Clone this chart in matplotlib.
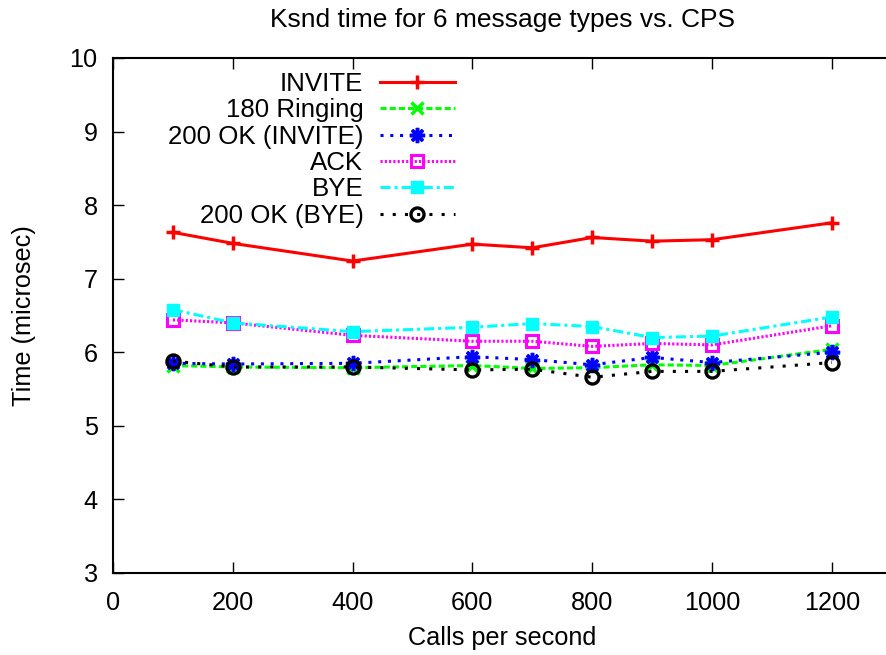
import matplotlib
matplotlib.use("Agg")
import matplotlib.pyplot as plt

# valeurs
cps = [100, 200, 400, 600, 700, 800, 900, 1000, 1200]
invite = [7.63, 7.48, 7.24, 7.47, 7.42, 7.56, 7.51, 7.53, 7.76]
ringing = [5.82, 5.80, 5.79, 5.82, 5.78, 5.79, 5.83, 5.82, 6.04]
ok_invite = [5.85, 5.84, 5.85, 5.94, 5.90, 5.83, 5.93, 5.86, 6.00]
ack = [6.44, 6.40, 6.23, 6.15, 6.15, 6.08, 6.12, 6.10, 6.36]
bye = [6.58, 6.40, 6.28, 6.34, 6.39, 6.35, 6.20, 6.22, 6.48]
ok_bye = [5.88, 5.80, 5.80, 5.76, 5.77, 5.66, 5.74, 5.74, 5.86]

labels = ["INVITE", "180 Ringing", "200 OK (INVITE)", "ACK", "BYE", "200 OK (BYE)"]
x_ticks = [0, 200, 400, 600, 800, 1000, 1200]
y_ticks = [3, 4, 5, 6, 7, 8, 9, 10]

plt.rcParams['font.family'] = ['Liberation Sans', 'DejaVu Sans']
plt.rcParams['font.size'] = 18.2

fig = plt.figure(figsize=(8.86, 6.55), dpi=100)
ax = fig.add_axes([0.1275, 0.1252, 0.879, 0.7863])

lw = 2.2
ax.plot(cps, invite, color='#ff0000', lw=lw, marker='+', ms=9.5, mew=2.5, label=labels[0])
ax.plot(cps, ringing, color='#00ff00', lw=lw, dashes=(2, 1), marker='x', ms=9, mew=2.5, label=labels[1])
ax.plot(cps, ok_invite, color='#0000ff', lw=lw, dashes=(1, 2.2), marker=(8, 2, 0), ms=11, mew=2.5,
        label=labels[2])
ax.plot(cps, ack, color='#ff00ff', lw=lw, dashes=(0.7, 0.7), marker='s', ms=8.6, mew=2.2,
        mfc='none', label=labels[3])
ax.plot(cps, bye, color='#00ffff', lw=lw, dashes=(3.3, 1.3, 1, 1.3), marker='s', ms=8, mew=1,
        label=labels[4])
ax.plot(cps, ok_bye, color='black', lw=lw, dashes=(1, 3), marker='o', ms=9.4, mew=2.4,
        mfc='none', label=labels[5])

ax.set_xlim(0, 1300)
ax.set_ylim(3, 10)
ax.set_xticks(x_ticks)
ax.set_yticks(y_ticks)
ax.tick_params(direction='in', length=8, width=1, top=True, right=False, pad=11)
ax.tick_params(axis='x', pad=13)
for s in ax.spines.values():
    s.set_linewidth(1.5)

ax.set_title("Ksnd time for 6 message types vs. CPS", pad=22, fontsize=19)
ax.set_xlabel("Calls per second", labelpad=8)
ax.set_ylabel("Time (microsec)", labelpad=24)

leg = ax.legend(loc='upper left', bbox_to_anchor=(168 / 886, 1 - 72 / 655),
                bbox_transform=fig.transFigure, frameon=False, markerfirst=False,
                handlelength=2.9, handletextpad=0.63, labelspacing=0.09, borderpad=0,
                borderaxespad=0, fontsize=18.6)

fig.savefig("out.png", dpi=100)
